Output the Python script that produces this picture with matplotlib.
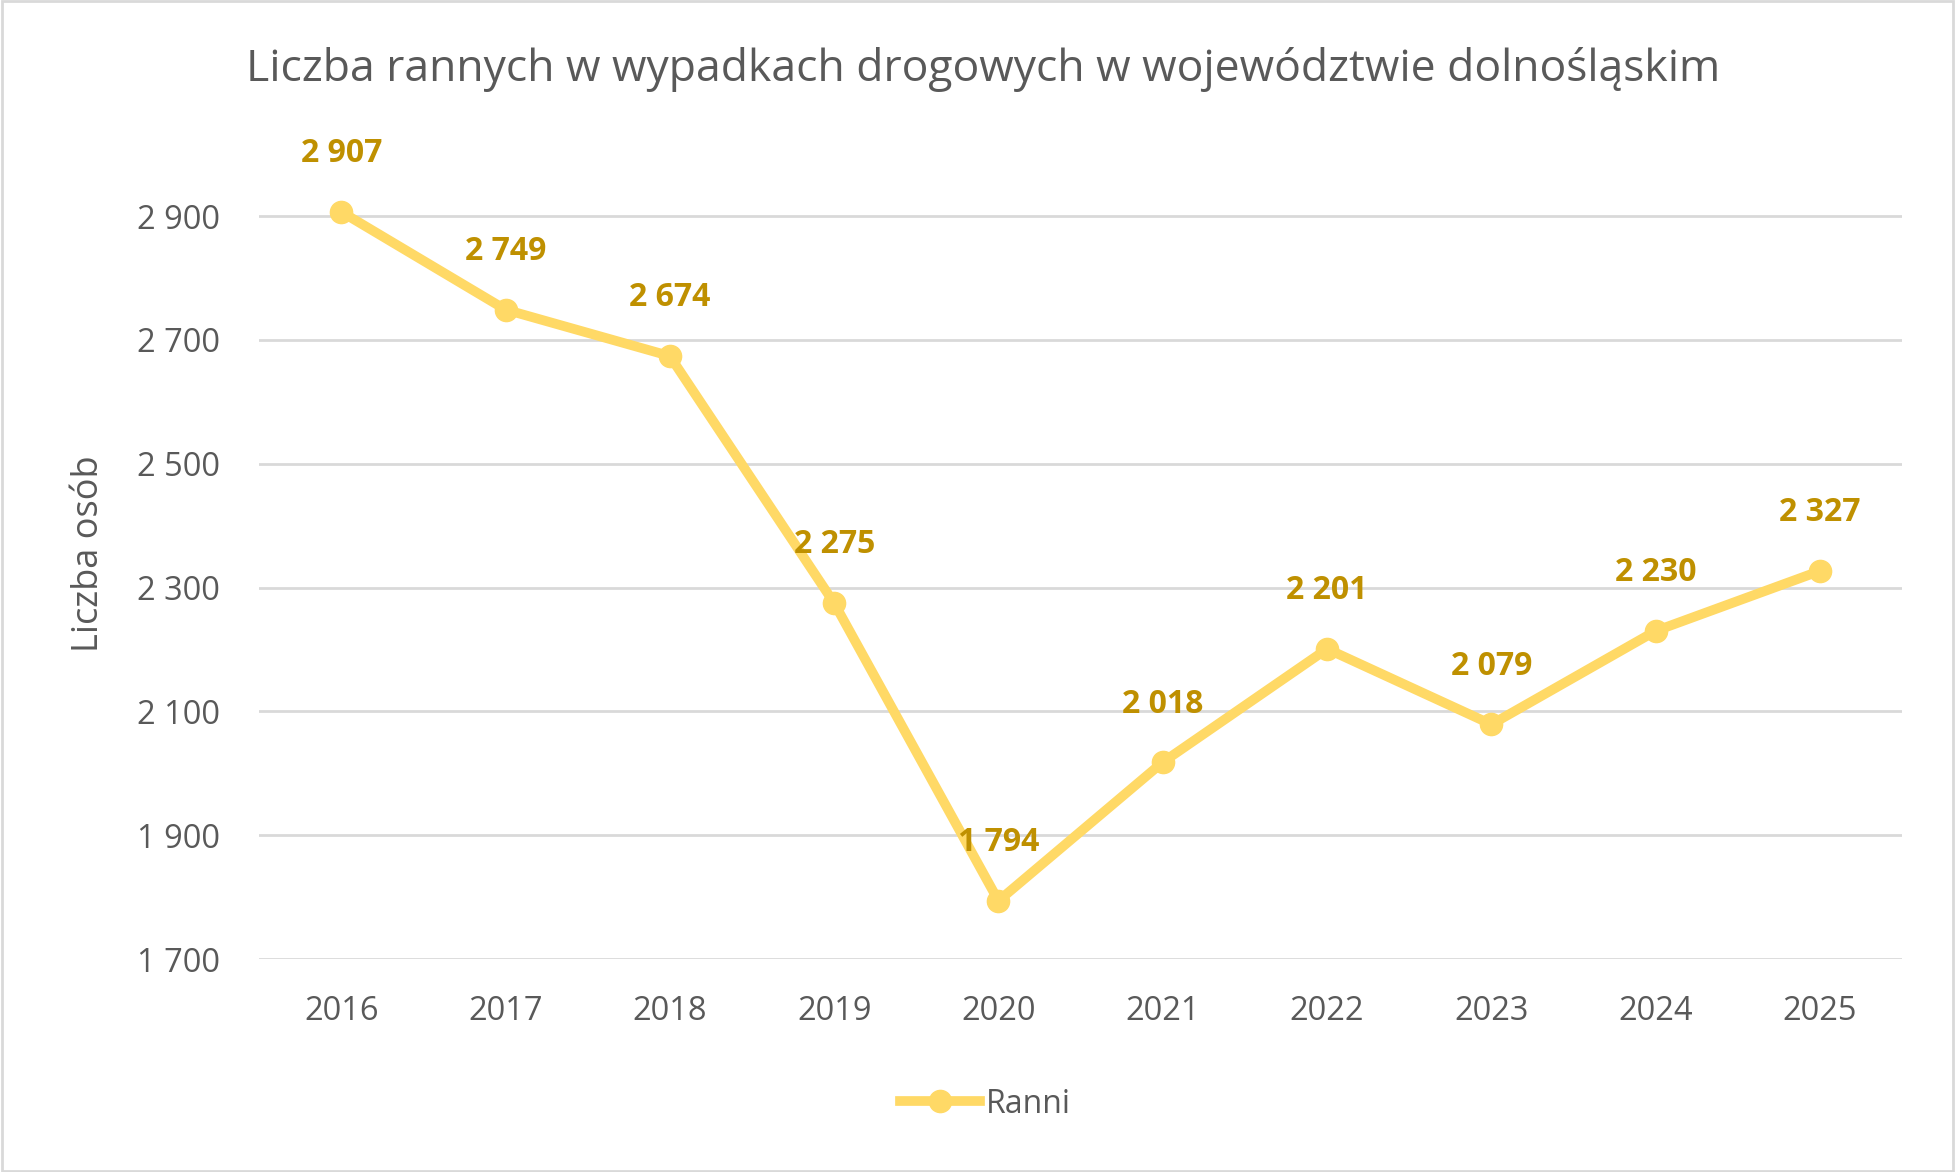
import matplotlib
matplotlib.use("Agg")
import matplotlib.pyplot as plt
from matplotlib.patches import Rectangle

years = ["2016","2017","2018","2019","2020","2021","2022","2023","2024","2025"]
ranni = [2907, 2749, 2674, 2275, 1794, 2018, 2201, 2079, 2230, 2327]
yticks = [1700, 1900, 2100, 2300, 2500, 2700, 2900]

plt.rcParams['font.family'] = ['Open Sans', 'DejaVu Sans']
fig = plt.figure(figsize=(19.55, 11.72), dpi=100)
ax = fig.add_axes([0.1325, 0.1817, 0.8405, 0.692])
x = range(len(years))
line, = ax.plot(x, ranni, color='#FFD966', lw=7, marker='o', ms=16, label='Ranni', zorder=3)
for xi, v in zip(x, ranni):
    ax.annotate(f"{v:,}".replace(",", " "), (xi, v), xytext=(0, 30), textcoords='offset points',
                ha='center', va='bottom', color='#BF9000', fontsize=23, fontweight='bold')
ax.set_xlim(-0.5, len(years) - 0.5)
ax.set_ylim(1700, 3010)
ax.set_yticks(yticks)
ax.set_yticklabels([f"{t:,}".replace(",", " ") for t in yticks])
ax.set_xticks(list(x))
ax.set_xticklabels(years)
ax.tick_params(length=0, labelsize=23.5, colors='#595959')
ax.tick_params(axis='y', pad=28)
ax.tick_params(axis='x', pad=26)
ax.grid(axis='y', color='#D9D9D9', lw=2)
ax.set_axisbelow(True)
for s in ax.spines.values():
    s.set_visible(False)
ax.set_ylabel("Liczba osób", fontsize=26, color='#595959', labelpad=22)
fig.text(0.503, 0.941, "Liczba rannych w wypadkach drogowych w województwie dolnośląskim",
         ha='center', va='center', fontsize=32, color='#595959')
fig.legend(handles=[line], loc='center', bbox_to_anchor=(0.504, 0.058), frameon=False,
           fontsize=23, labelcolor='#595959', handlelength=2.5, handletextpad=0.2)
fig.patches.append(Rectangle((0.001, 0.001), 0.998, 0.998, transform=fig.transFigure,
                             fill=False, edgecolor='#D9D9D9', lw=2))
fig.savefig("out.png", dpi=100)
